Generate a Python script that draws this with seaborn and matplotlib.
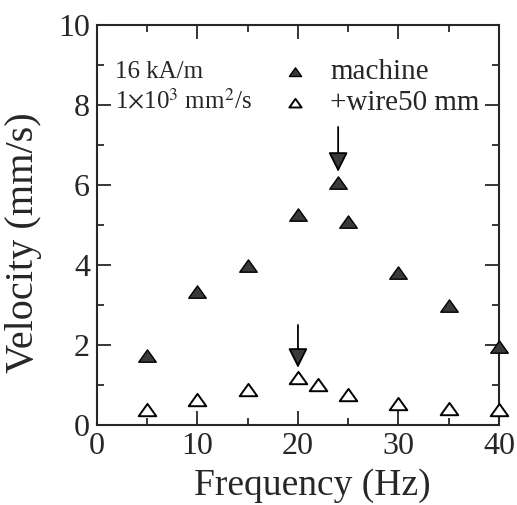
import numpy as np
import pandas as pd
import matplotlib
matplotlib.use('Agg')
import matplotlib.pyplot as plt
from matplotlib.path import Path
import seaborn as sns

# Valores
freq_machine = [5, 10, 15, 20, 24, 25, 30, 35, 40]
vel_machine = [1.72, 3.32, 3.98, 5.25, 6.05, 5.08, 3.80, 2.97, 1.95]

freq_wire = [5, 10, 15, 20, 22, 25, 30, 35, 40]
vel_wire = [0.37, 0.62, 0.87, 1.17, 1.00, 0.75, 0.52, 0.40, 0.37]

# setas (x, y inicial, y final)
arrow_x = [24, 20]
arrow_y0 = [7.45, 2.50]
arrow_y1 = [6.33, 1.43]

sns.set_style('ticks')
plt.rcParams['font.family'] = ['Liberation Serif', 'DejaVu Serif']
plt.rcParams['mathtext.fontset'] = 'stix'

# triângulo um pouco achatado, como no original
tri = Path([(0, 0.75), (-1, -0.65), (1, -0.65), (0, 0.75)],
           [Path.MOVETO, Path.LINETO, Path.LINETO, Path.CLOSEPOLY])

fig = plt.figure(figsize=(5.17, 5.05), dpi=100)
ax = fig.add_axes([0.1876, 0.1584, 0.7774, 0.7921])

df_m = pd.DataFrame({'f': freq_machine, 'v': vel_machine})
df_w = pd.DataFrame({'f': freq_wire, 'v': vel_wire})

sns.scatterplot(data=df_m, x='f', y='v', ax=ax, marker=tri, s=160,
                color='#3a3a3a', edgecolor='black', linewidth=1.0,
                label='machine', clip_on=False, zorder=3)
sns.scatterplot(data=df_w, x='f', y='v', ax=ax, marker=tri, s=160,
                facecolor='white', edgecolor='black', linewidth=1.4,
                label='+wire50 mm', clip_on=False, zorder=3)

for x, y0, y1 in zip(arrow_x, arrow_y0, arrow_y1):
    ax.annotate('', xy=(x, y1), xytext=(x, y0),
                arrowprops=dict(arrowstyle='-|>,head_length=1.2,head_width=0.6',
                                facecolor='#3a3a3a', edgecolor='black',
                                lw=1.3, shrinkA=0, shrinkB=0), zorder=4)

ax.set_xlim(0, 40)
ax.set_ylim(0, 10)
ax.set_xticks([0, 10, 20, 30, 40])
ax.set_xticks([5, 15, 25, 35], minor=True)
ax.set_yticks([0, 2, 4, 6, 8, 10])
ax.set_yticks([1, 3, 5, 7, 9], minor=True)
ax.tick_params(which='both', direction='in', top=True, right=True,
               labelsize=23, width=1.3)
ax.tick_params(axis='x', which='both', pad=5)
ax.tick_params(axis='y', which='both', pad=5)
ax.tick_params(which='major', length=10)
ax.tick_params(which='minor', length=5)
for sp in ax.spines.values():
    sp.set_linewidth(1.5)
    sp.set_visible(True)

ax.set_xlabel('Frequency (Hz)', fontsize=27)
ax.set_ylabel('Velocity (mm/s)', fontsize=29)
ax.xaxis.set_label_coords(0.536, -0.108)
ax.yaxis.set_label_coords(-0.136, 0.455)

ax.text(0.045, 0.883, '16 kA/m', transform=ax.transAxes, fontsize=18, va='center')
ax.text(0.045, 0.808, r'1$\times$10$^3$ mm$^2$/s', transform=ax.transAxes,
        fontsize=18, va='center')

ax.legend(loc='upper left', bbox_to_anchor=(0.449, 0.915), frameon=False,
          fontsize=21, handlelength=1.2, handletextpad=0.6, labelspacing=0.15,
          borderaxespad=0, borderpad=0, markerscale=0.7)

fig.savefig('out.png', dpi=100)
